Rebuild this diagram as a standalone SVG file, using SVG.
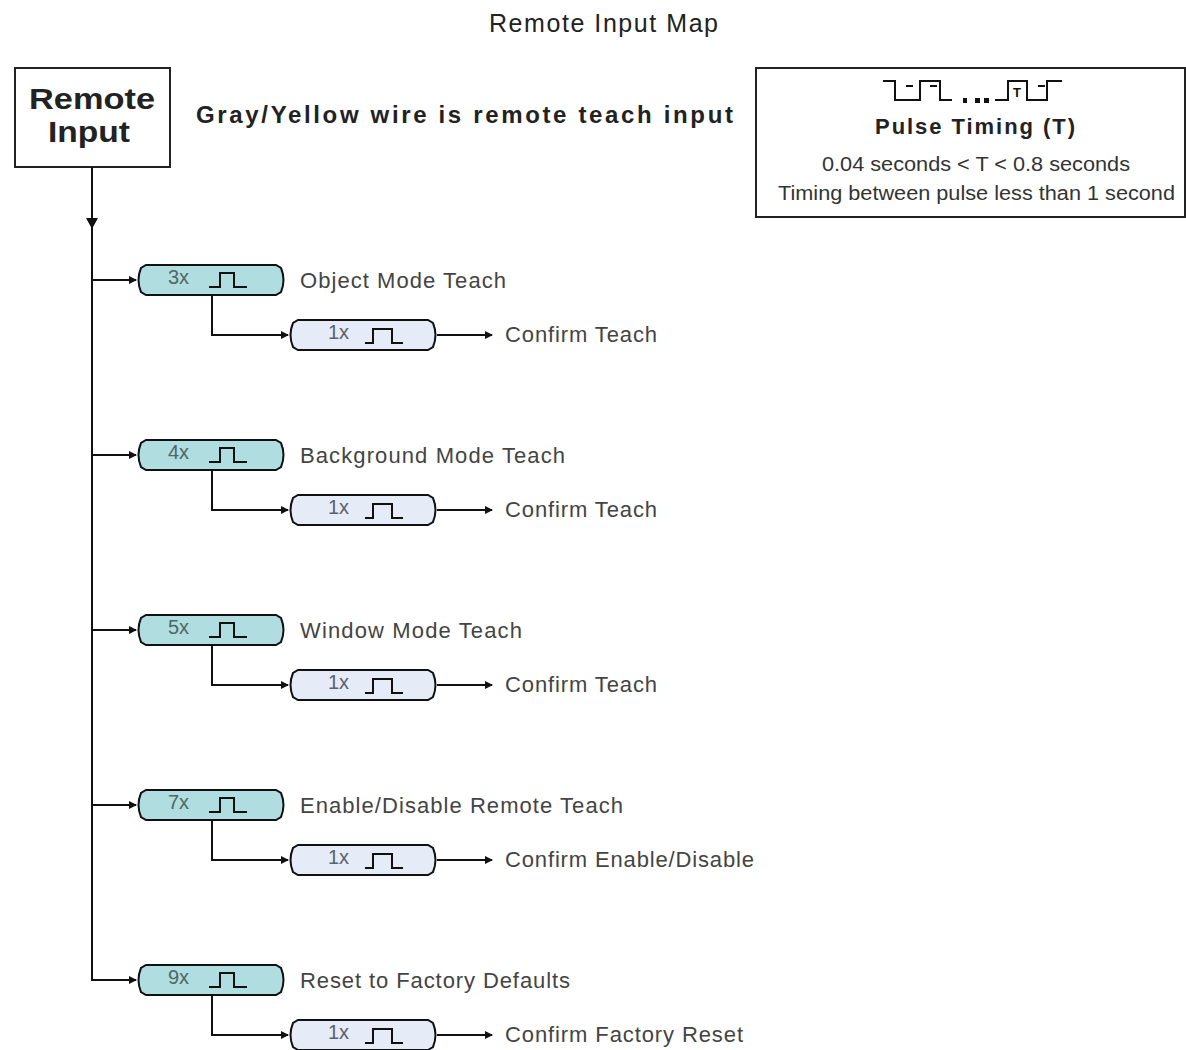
<svg xmlns="http://www.w3.org/2000/svg" xmlns:xlink="http://www.w3.org/1999/xlink" width="1186" height="1050" viewBox="0 0 1186 1050">
<style>
text{font-family:"Liberation Sans",Arial,sans-serif;}
.title{font-size:25px;fill:#222;}
.bold{font-weight:bold;fill:#222;}
.lbl{font-size:22px;fill:#444;}
.cnt{font-size:20px;fill:#4d6868;}
.cnt2{font-size:20px;fill:#5a6070;}
.box{fill:#fff;stroke:#222;stroke-width:2;}
.pillA{fill:#b0dde0;stroke:#111;stroke-width:2;}
.pillB{fill:#e6ecf7;stroke:#111;stroke-width:2;}
.pulse{fill:none;stroke:#111;stroke-width:2;}
.con{fill:none;stroke:#111;stroke-width:2;}
.sm{font-size:20px;fill:#333;}
</style>
<defs>
<marker id="arr" markerWidth="8" markerHeight="8" refX="7" refY="4" orient="auto" markerUnits="userSpaceOnUse">
<path d="M0,0 L8,4 L0,8 Z" fill="#111"/>
</marker>
<path id="pill" d="M9,0 H139 L144,3 Q149,15 144,27 L139,30 H9 L4,27 Q-1,15 4,3 Z"/>
</defs>

<text class="title" x="489" y="32" textLength="229" lengthAdjust="spacing">Remote Input Map</text>

<g id="remote-input">
<rect class="box" x="15" y="68" width="155" height="99"/>
<text class="bold" x="29" y="109" font-size="30" textLength="126" lengthAdjust="spacingAndGlyphs">Remote</text>
<text class="bold" x="48" y="142" font-size="30" textLength="82" lengthAdjust="spacingAndGlyphs">Input</text>
</g>

<text class="bold" x="196" y="123" font-size="24" textLength="537" lengthAdjust="spacing">Gray/Yellow wire is remote teach input</text>

<g id="pulse-timing">
<rect class="box" x="756" y="68" width="429" height="149"/>
<path class="pulse" d="M883,81 H895 V100 H920 V81 H940 V100 H952"/>
<path class="pulse" d="M995,100 H1008 V81 H1027 V100 H1047 V81 H1062"/>
<path class="pulse" d="M906,86 H913 M930,86 H937 M1038,86 H1045"/>
<text x="1013" y="97" font-size="13" font-weight="bold" fill="#111">T</text>
<rect x="963" y="98" width="4" height="5" fill="#111"/>
<rect x="975" y="98" width="5" height="5" fill="#111"/>
<rect x="984" y="98" width="5" height="5" fill="#111"/>
<text class="bold" x="875" y="134" font-size="22" textLength="200" lengthAdjust="spacing">Pulse Timing (T)</text>
<text class="sm" x="822" y="171" textLength="308" lengthAdjust="spacingAndGlyphs">0.04 seconds &lt; T &lt; 0.8 seconds</text>
<text class="sm" x="778" y="200" textLength="397" lengthAdjust="spacingAndGlyphs">Timing between pulse less than 1 second</text>
</g>

<g id="connectors">
<path class="con" d="M92,167 V980 H136" marker-end="url(#arr)"/>
<path d="M86,218 H98 L92,229 Z" fill="#111"/>
<path class="con" d="M92,280 H136" marker-end="url(#arr)"/>
<path class="con" d="M92,455 H136" marker-end="url(#arr)"/>
<path class="con" d="M92,630 H136" marker-end="url(#arr)"/>
<path class="con" d="M92,805 H136" marker-end="url(#arr)"/>
<path class="con" d="M212,295 V335 H288" marker-end="url(#arr)"/>
<path class="con" d="M212,470 V510 H288" marker-end="url(#arr)"/>
<path class="con" d="M212,645 V685 H288" marker-end="url(#arr)"/>
<path class="con" d="M212,820 V860 H288" marker-end="url(#arr)"/>
<path class="con" d="M212,995 V1035 H288" marker-end="url(#arr)"/>
<path class="con" d="M437,335 H492" marker-end="url(#arr)"/>
<path class="con" d="M437,510 H492" marker-end="url(#arr)"/>
<path class="con" d="M437,685 H492" marker-end="url(#arr)"/>
<path class="con" d="M437,860 H492" marker-end="url(#arr)"/>
<path class="con" d="M437,1035 H492" marker-end="url(#arr)"/>
</g>

<g id="row-3x">
<use xlink:href="#pill" href="#pill" class="pillA" x="137" y="265"/>
<text class="cnt" x="168" y="284">3x</text>
<path class="pulse" d="M209,287 H220 V273 H234 V287 H247"/>
<text class="lbl" x="300" y="288" textLength="206" lengthAdjust="spacing">Object Mode Teach</text>
</g>
<g id="row-3x-confirm">
<use xlink:href="#pill" href="#pill" class="pillB" x="289" y="320"/>
<text class="cnt2" x="328" y="339">1x</text>
<path class="pulse" d="M365,343 H373 V329 H392 V343 H403"/>
<text class="lbl" x="505" y="342" textLength="152" lengthAdjust="spacing">Confirm Teach</text>
</g>

<g id="row-4x">
<use xlink:href="#pill" href="#pill" class="pillA" x="137" y="440"/>
<text class="cnt" x="168" y="459">4x</text>
<path class="pulse" d="M209,462 H220 V448 H234 V462 H247"/>
<text class="lbl" x="300" y="463" textLength="265" lengthAdjust="spacing">Background Mode Teach</text>
</g>
<g id="row-4x-confirm">
<use xlink:href="#pill" href="#pill" class="pillB" x="289" y="495"/>
<text class="cnt2" x="328" y="514">1x</text>
<path class="pulse" d="M365,518 H373 V504 H392 V518 H403"/>
<text class="lbl" x="505" y="517" textLength="152" lengthAdjust="spacing">Confirm Teach</text>
</g>

<g id="row-5x">
<use xlink:href="#pill" href="#pill" class="pillA" x="137" y="615"/>
<text class="cnt" x="168" y="634">5x</text>
<path class="pulse" d="M209,637 H220 V623 H234 V637 H247"/>
<text class="lbl" x="300" y="638" textLength="222" lengthAdjust="spacing">Window Mode Teach</text>
</g>
<g id="row-5x-confirm">
<use xlink:href="#pill" href="#pill" class="pillB" x="289" y="670"/>
<text class="cnt2" x="328" y="689">1x</text>
<path class="pulse" d="M365,693 H373 V679 H392 V693 H403"/>
<text class="lbl" x="505" y="692" textLength="152" lengthAdjust="spacing">Confirm Teach</text>
</g>

<g id="row-7x">
<use xlink:href="#pill" href="#pill" class="pillA" x="137" y="790"/>
<text class="cnt" x="168" y="809">7x</text>
<path class="pulse" d="M209,812 H220 V798 H234 V812 H247"/>
<text class="lbl" x="300" y="813" textLength="323" lengthAdjust="spacing">Enable/Disable Remote Teach</text>
</g>
<g id="row-7x-confirm">
<use xlink:href="#pill" href="#pill" class="pillB" x="289" y="845"/>
<text class="cnt2" x="328" y="864">1x</text>
<path class="pulse" d="M365,868 H373 V854 H392 V868 H403"/>
<text class="lbl" x="505" y="867" textLength="249" lengthAdjust="spacing">Confirm Enable/Disable</text>
</g>

<g id="row-9x">
<use xlink:href="#pill" href="#pill" class="pillA" x="137" y="965"/>
<text class="cnt" x="168" y="984">9x</text>
<path class="pulse" d="M209,987 H220 V973 H234 V987 H247"/>
<text class="lbl" x="300" y="988" textLength="270" lengthAdjust="spacing">Reset to Factory Defaults</text>
</g>
<g id="row-9x-confirm">
<use xlink:href="#pill" href="#pill" class="pillB" x="289" y="1020"/>
<text class="cnt2" x="328" y="1039">1x</text>
<path class="pulse" d="M365,1043 H373 V1029 H392 V1043 H403"/>
<text class="lbl" x="505" y="1042" textLength="238" lengthAdjust="spacing">Confirm Factory Reset</text>
</g>
</svg>
